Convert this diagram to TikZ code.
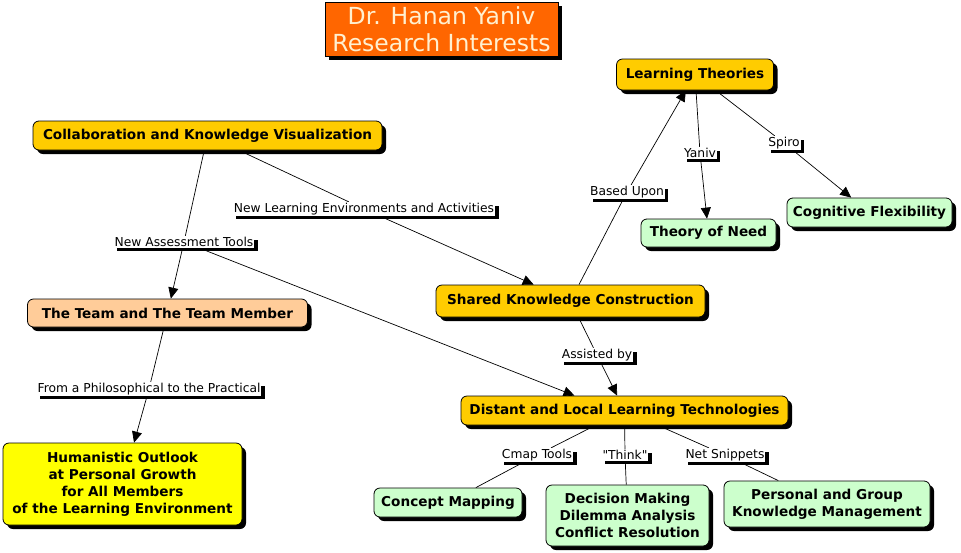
\documentclass[tikz,border=0pt]{standalone}
\usepackage{fontspec}
\setmainfont{DejaVu Sans}
\newfontfamily\plainq{DejaVu Sans}[Ligatures=TeXOff]
\usetikzlibrary{arrows.meta,shadows}
\pgfdeclarelayer{background}
\pgfsetlayers{background,main}
\definecolor{gold}{HTML}{FFCC00}
\definecolor{peach}{HTML}{FFCC99}
\definecolor{lgreen}{HTML}{CCFFCC}
\definecolor{yel}{HTML}{FFFF00}
\definecolor{orng}{HTML}{FF6600}
\definecolor{cream}{HTML}{FFF0D0}
\tikzset{
 concept/.style={draw=black, line width=0.8pt, rounded corners=6pt,
   font=\fontsize{13.6}{17}\selectfont\bfseries, align=center, inner sep=0pt,
   general shadow={fill=black, shadow xshift=4pt, shadow yshift=-4pt}},
 lbl/.style={fill=white, inner sep=1pt, font=\fontsize{12.3}{14}\selectfont,
   general shadow={fill=black, shadow xshift=3.5pt, shadow yshift=-3.5pt}},
 link/.style={draw=black, line width=0.7pt},
 arr/.style={link, -{Triangle[length=11pt,width=10pt]}},
}
\begin{document}
\begin{tikzpicture}[x=1pt,y=-1pt]
\useasboundingbox (0,0) rectangle (961,552);
% title
\node[draw=black, line width=0.6pt, fill=orng, text=cream, align=center, inner sep=0pt,
  minimum width=233pt, minimum height=54pt, font=\fontsize{23.5}{27}\selectfont,
  general shadow={fill=black, shadow xshift=4pt, shadow yshift=-4pt}]
  (title) at (441.5,29) {Dr. Hanan Yaniv\\Research Interests};
% concepts
\node[concept, fill=gold, minimum width=157pt, minimum height=31pt] (lt) at (695,74.5) {Learning Theories};
\node[concept, fill=gold, minimum width=349pt, minimum height=29pt] (collab) at (207.5,135.5) {Collaboration and Knowledge Visualization};
\node[concept, fill=lgreen, minimum width=135pt, minimum height=28pt] (ton) at (708.5,233) {Theory of Need};
\node[concept, fill=lgreen, minimum width=165pt, minimum height=29pt] (cog) at (869.5,212.5) {Cognitive Flexibility};
\node[concept, fill=gold, minimum width=269pt, minimum height=32pt] (shared) at (570.5,301) {Shared Knowledge Construction};
\node[concept, fill=peach, minimum width=280pt, minimum height=28pt] (team) at (167.5,313) {The Team and The Team Member};
\node[concept, fill=gold, minimum width=327pt, minimum height=29pt] (distant) at (624.5,410.5) {Distant and Local Learning Technologies};
\node[concept, fill=yel, minimum width=239pt, minimum height=82pt] (human) at (122.5,484) {Humanistic Outlook\\at Personal Growth\\for All Members\\of the Learning Environment};
\node[concept, fill=lgreen, minimum width=148pt, minimum height=29pt] (concept) at (448,502.5) {Concept Mapping};
\node[concept, fill=lgreen, minimum width=163pt, minimum height=61pt] (decision) at (627.5,515.5) {Decision Making\\Dilemma Analysis\\Conflict Resolution};
\node[concept, fill=lgreen, minimum width=206pt, minimum height=46pt] (personal) at (827,504) {Personal and Group\\Knowledge Management};
% labels
\node[lbl] (nle) at (364,209) {New Learning Environments and Activities};
\node[lbl] (nat) at (184,242) {New Assessment Tools};
\node[lbl] (based) at (627,192) {Based Upon};
\node[lbl] (yaniv) at (700,153) {Yaniv};
\node[lbl] (spiro) at (784,143) {Spiro};
\node[lbl] (assisted) at (597,355) {Assisted by};
\node[lbl] (phil) at (149,389) {From a Philosophical to the Practical};
\node[lbl] (cmap) at (537,455) {Cmap Tools};
\node[lbl] (think) at (625,455) {\plainq "Think"};
\node[lbl] (net) at (725,455) {Net Snippets};
% connectors
\begin{pgfonlayer}{background}
\draw[link] (collab) -- (nle);
\draw[arr] (nle) -- (shared);
\draw[link] (collab) -- (nat);
\draw[arr] (nat) -- (team);
\draw[arr] (nat) -- ([xshift=-50pt]distant.north);
\draw[link] (shared) -- (based);
\draw[arr] (based) -- (lt);
\draw[link] (lt) -- (yaniv);
\draw[arr] (yaniv) -- (ton);
\draw[link] (lt) -- (spiro);
\draw[arr] (spiro) -- (cog);
\draw[link] (shared) -- (assisted);
\draw[arr] (assisted) -- (distant);
\draw[link] (team) -- (phil);
\draw[arr] (phil) -- (human);
\draw[link] (distant) -- (cmap);
\draw[link] (cmap) -- (concept);
\draw[link] (distant) -- (think);
\draw[link] (think) -- (decision);
\draw[link] (distant) -- (net);
\draw[link] (net) -- (personal);
\end{pgfonlayer}
\end{tikzpicture}
\end{document}
